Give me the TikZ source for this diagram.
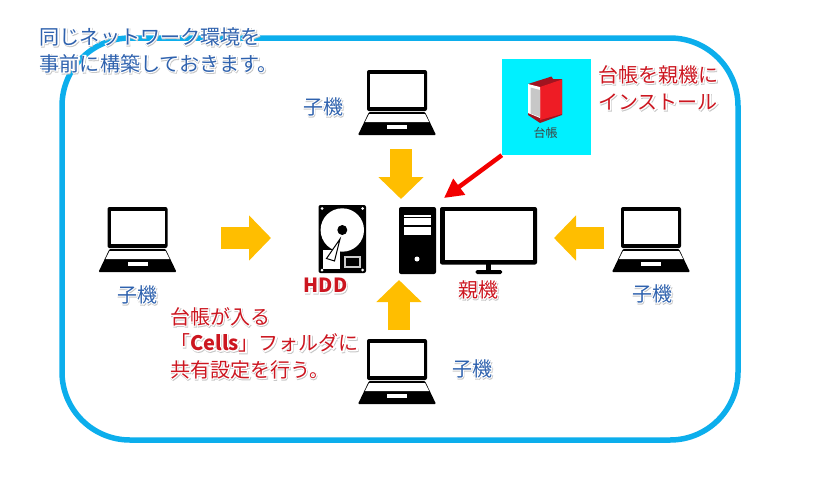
\documentclass[tikz,border=0pt]{standalone}
\usepackage{fontspec}
\setmainfont{Noto Sans CJK JP}
\newfontfamily\cjkhalo[FakeBold=10]{Noto Sans CJK JP}
\usetikzlibrary{arrows.meta}
\definecolor{frameblue}{HTML}{0CAEEC}
\definecolor{gold}{HTML}{FFBE00}
\definecolor{noteblue}{HTML}{2F62AE}
\definecolor{notered}{HTML}{CC1620}
\definecolor{iconcyan}{HTML}{00F0FF}
\definecolor{bookred}{HTML}{EE1C25}
\definecolor{bookdark}{HTML}{A01420}
% text with a white rim and a soft shadow
\newcommand{\halo}[2]{\leavevmode\rlap{\raisebox{-1pt}{\kern.6pt\color{black!22}\cjkhalo #2}}\rlap{\color{white}\cjkhalo #2}{\color{#1}#2}}
\tikzset{
	label/.style={inner sep=0, font=\fontsize{#1}{#1}\selectfont},
	note/.style={inner sep=0, anchor=north west, align=left, font=\fontsize{20}{26.5}\selectfont},
	feed/.style={draw=gold, line width=22pt, -{Triangle[length=22pt,width=44pt]}},
	pics/laptop/.style={code={
		\fill[rounded corners=2pt] (-30,0) rectangle (30,41);
		\fill[white] (-27,4) rectangle (27,37);
		\fill[rounded corners=1pt] (-28,42) -- (28,42) -- (39,65) -- (-39,65) -- cycle;
		\fill[white] (-28,44) -- (28,44) -- (32,52) -- (-32,52) -- cycle;
		\fill[white] (-10,55) rectangle (10,59);
	}},
}
\begin{document}
\begin{tikzpicture}[x=1pt, y=-1pt]
	\useasboundingbox (0,0) rectangle (826,482);
	\draw[frameblue, line width=5.5pt, rounded corners=68pt] (62,38) rectangle (738,440);
	% laptops
	\draw (397,70) pic {laptop};
	\draw (137.5,207) pic {laptop};
	\draw (651,207) pic {laptop};
	\draw (397,339) pic {laptop};
	% hdd
	\fill[rounded corners=2pt] (318.5,205) rectangle (366,273);
	\foreach \hx/\hy in {322/208.5, 362.5/208.5, 322/270, 362.5/270}
		\fill[white] (\hx,\hy) circle [radius=1.5];
	\fill[white] (342.3,230) circle [radius=21.7];
	\fill (342.3,230) circle [radius=5];
	\fill[white] (322.5,250) rectangle (340,268.5);
	\draw[fill=white, line width=1pt] (340,239) -- (326.5,258.5) -- (334.5,261) -- cycle;
	\draw[draw=black!20, line width=1.2pt] (345,257) rectangle (360,267);
	% tower
	\fill[rounded corners=2pt] (399,207) rectangle (436,274);
	\fill[white] (404,215) rectangle (431,216.5);
	\fill[white] (404,218) rectangle (431,225);
	\fill[white] (404,227) rectangle (431,235);
	\fill[white] (417,259) circle [radius=2.5];
	% monitor
	\fill[rounded corners=2pt] (440,207) rectangle (537,264.5);
	\fill[white] (444.5,211) rectangle (532.5,260);
	\fill (485.5,264) rectangle (491,271);
	\fill[rounded corners=1.5pt] (475.5,270) rectangle (502,274);
	% ledger icon
	\node (ledger) [fill=iconcyan, inner sep=0, minimum width=89pt, minimum height=96pt] at (546.5,107) {};
	\fill[bookdark] (528,84) -- (551.5,76.5) -- (553,79) -- (562,79) -- (562,115) -- (540,123) -- (528,115) -- cycle;
	\fill[bookred] (540,87) -- (562,79.5) -- (562,114) -- (540,120) -- cycle;
	\fill[white] (528,84) -- (540,87) -- (540,118) -- (528,113) -- cycle;
	\fill[black!22] (530.5,87.5) -- (540,90) -- (540,117) -- (530.5,113.5) -- cycle;
	\node (ledgername) [label=12] at (545.5,133) {\color{black!75}台帳};
	% arrows
	\coordinate (topfrom) at (401,149);
	\coordinate (topto) at (401,199);
	\coordinate (leftfrom) at (221,238);
	\coordinate (leftto) at (271,238);
	\coordinate (rightfrom) at (604,238);
	\coordinate (rightto) at (554,238);
	\coordinate (lowfrom) at (399,330);
	\coordinate (lowto) at (399,280);
	\coordinate (pctip) at (444,198);
	\draw[feed] (topfrom) -- (topto);
	\draw[feed] (leftfrom) -- (leftto);
	\draw[feed] (rightfrom) -- (rightto);
	\draw[feed] (lowfrom) -- (lowto);
	\draw[red!95!black, line width=4.5pt, -{Triangle[length=19pt,width=19pt]}] (ledger.south west) -- (pctip);
	% labels
	\node (title) [note, font=\fontsize{20.1}{27}\selectfont] at (39.5,27) {\halo{noteblue}{同じネットワーク環境を}\\\halo{noteblue}{事前に構築しておきます。}};
	\node (install) [note, font=\fontsize{20}{27}\selectfont] at (598,65) {\halo{notered}{台帳を親機に}\\\halo{notered}{インストール}};
	\node (share) [note] at (170,307) {\halo{notered}{台帳が入る}\\\halo{notered}{「{\bfseries Cells}」フォルダに}\\\halo{notered}{共有設定を行う。}};
	\node (subtop) [label=20] at (323,107) {\halo{noteblue}{子機}};
	\node (subleft) [label=20] at (137,295) {\halo{noteblue}{子機}};
	\node (subright) [label=20] at (652,294) {\halo{noteblue}{子機}};
	\node (sublow) [label=20] at (472,369) {\halo{noteblue}{子機}};
	\node (parent) [label=20] at (478,290) {\halo{notered}{親機}};
	\node (hddname) [label=19.5] at (325.5,286) {\halo{notered}{\bfseries HDD}};
\end{tikzpicture}
\end{document}
